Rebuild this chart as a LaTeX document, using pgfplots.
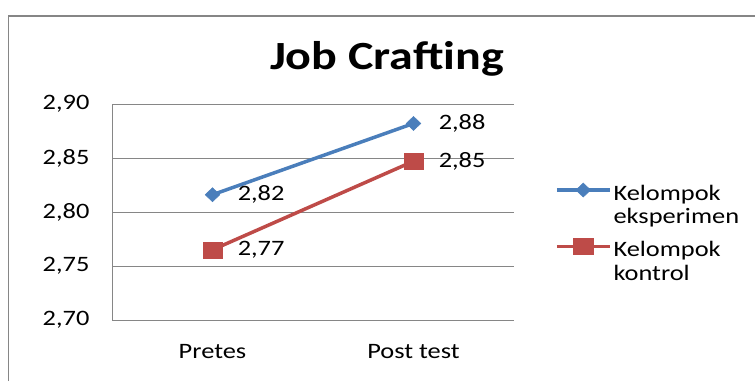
\documentclass[border=0pt]{standalone}
\usepackage{fontspec}
\setmainfont{Carlito}[FakeStretch=1.2]
\usepackage{pgfplots}
\pgfplotsset{compat=1.18}
\definecolor{xlblue}{HTML}{4A7EBB}
\definecolor{xlred}{HTML}{BE4B48}
\definecolor{gridc}{HTML}{868686}
\pgfplotstableread{
x y lab
0 2.816 2,82
1 2.882 2,88
}\eksp
\pgfplotstableread{
x y lab
0 2.765 2,77
1 2.847 2,85
}\kontrol
\begin{document}
\begin{tikzpicture}[x=1pt,y=1pt]
\useasboundingbox (0,0) rectangle (755,381);
\draw[gridc, line width=1.5pt] (8.5,0) -- (8.5,365) -- (755,365);
\node[font=\fontsize{40}{44}\selectfont\bfseries, anchor=base] at (387,311) {Job Crafting};
\begin{axis}[
  at={(112pt,61pt)}, anchor=south west, scale only axis,
  width=402pt, height=216pt,
  xmin=-0.5, xmax=1.5, ymin=2.70, ymax=2.90,
  xtick={0,1}, xticklabels={Pretes, Post test},
  ytick={2.70,2.75,2.80,2.85,2.90},
  yticklabel style={/pgf/number format/use comma, /pgf/number format/fixed,
    /pgf/number format/fixed zerofill, /pgf/number format/precision=2},
  /pgf/number format/assume math mode=true,
  tick label style={font=\fontsize{22}{24}\selectfont},
  yticklabel style={xshift=-19pt},
  xticklabel style={yshift=-21pt},
  major tick length=0pt,
  axis x line*=bottom, axis y line*=left,
  axis line style={gridc, line width=1pt, -},
  ymajorgrids, grid style={gridc, line width=1pt},
  clip=false,
  legend style={at={(1.102,0.634)}, anchor=north west, draw=none, fill=none,
    inner sep=0pt, outer sep=0pt, row sep=11pt,
    font=\fontsize{22}{23.5}\selectfont,
    cells={anchor=north west, align=left, inner sep=0pt},
    /tikz/every even column/.append style={column sep=5pt}},
  legend image code/.code={\draw[mark repeat=2,mark phase=2,#1] plot coordinates {(0pt,-7pt) (26.5pt,-7pt) (53pt,-7pt)};},
  every node near coord/.append style={anchor=west, inner sep=0pt, xshift=25pt, text=black, font=\fontsize{22}{24}\selectfont},
]
\addplot[xlblue, line width=3.5pt, mark=diamond*, mark size=7pt,
  mark options={solid, line width=0.5pt, xscale=1.4},
  nodes near coords, point meta=explicit symbolic]
  table[x=x, y=y, meta=lab] {\eksp};
\addlegendentry{Kelompok\\eksperimen}
\addplot[xlred, line width=3.5pt, mark=square*, mark size=8pt,
  mark options={solid, line width=0.5pt, xscale=1.2},
  nodes near coords, point meta=explicit symbolic]
  table[x=x, y=y, meta=lab] {\kontrol};
\addlegendentry{Kelompok\\kontrol}
\end{axis}
\end{tikzpicture}
\end{document}
